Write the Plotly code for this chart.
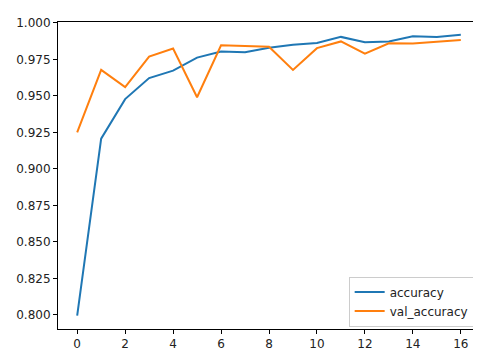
import plotly.graph_objects as go

epochs = list(range(17))
accuracy = [0.7995, 0.9207, 0.9478, 0.9622, 0.9673, 0.9762, 0.9804, 0.9799,
            0.9829, 0.9851, 0.9862, 0.9904, 0.9867, 0.9873, 0.9909, 0.9904, 0.9918]
val_accuracy = [0.9251, 0.9678, 0.9560, 0.9769, 0.9824, 0.9491, 0.9847, 0.9840,
                0.9836, 0.9678, 0.9827, 0.9873, 0.9789, 0.9860, 0.9858, 0.9871, 0.9882]
x_ticks = [0, 2, 4, 6, 8, 10, 12, 14, 16]
y_ticks = [0.800, 0.825, 0.850, 0.875, 0.900, 0.925, 0.950, 0.975, 1.000]

fig = go.Figure()
fig.add_trace(go.Scatter(x=epochs, y=accuracy, mode="lines", name="accuracy",
                         line=dict(color="#1f77b4", width=2)))
fig.add_trace(go.Scatter(x=epochs, y=val_accuracy, mode="lines", name="val_accuracy",
                         line=dict(color="#ff7f0e", width=2)))

axis_style = dict(showgrid=False, zeroline=False, showline=True, linecolor="black",
                  linewidth=1, mirror=True, ticks="outside", ticklen=4,
                  tickcolor="black", tickfont=dict(size=12, color="#222"))

fig.update_layout(
    width=481, height=351,
    margin=dict(l=49, r=8, t=10, b=26),
    paper_bgcolor="white", plot_bgcolor="white",
    font=dict(family="DejaVu Sans", color="#222"),
    xaxis=dict(range=[-0.8, 16.8], tickvals=x_ticks, **axis_style),
    yaxis=dict(range=[0.7904, 1.0006], tickvals=y_ticks, tickformat=".3f", **axis_style),
    legend=dict(x=0.985, xanchor="right", y=0.008, yanchor="bottom",
                bgcolor="rgba(255,255,255,0.8)", bordercolor="#cccccc", borderwidth=1,
                font=dict(size=12), tracegroupgap=0, itemwidth=30),
    showlegend=True,
)

fig.write_html("out.html")
